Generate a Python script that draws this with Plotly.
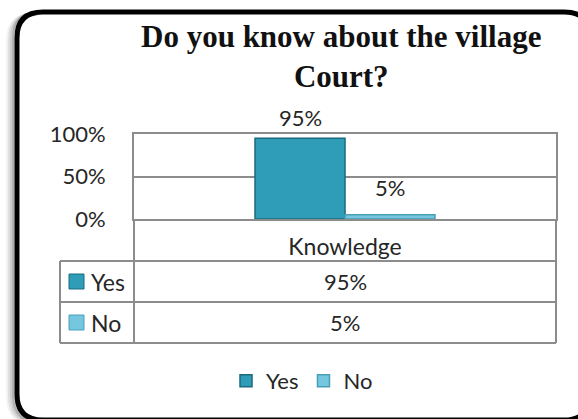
import plotly.graph_objects as go

# Canvas size in pixels
W, H = 578, 419

# ---- data ----
categories = ["Knowledge"]
series_names = ["Yes", "No"]
yes_values = [0.95]
no_values = [0.05]
y_tick_vals = [0, 0.5, 1]
y_tick_text = ["0%", "50%", "100%"]
title_text = "Do you know about the village<br>Court?"

# ---- styling ----
bar_colors = {"Yes": "#2f9cb8", "No": "#74c7df"}
bar_edges = {"Yes": "#1c6a7e", "No": "#4a9fb8"}
grid_col = "#8c8c8c"
text_col = "#262626"
FONT = "Lato"
label_lift = {"Yes": 21, "No": 27}

# plot area in pixels
L, R, T, B = 134, 556, 134, 219
# data table rows (pixel y of horizontal rules) and left edge
TBL_X0 = 60
ROW_Y = [261, 302, 343]
# outer frame (right side runs past the canvas edge)
FX0, FY0, FX1, FY1, FR = 17, 12, 590, 420, 26


def px(x):
    return x / W


def py(y):
    return 1 - y / H


def path_str(pts):
    s = ""
    for cmd, coords in pts:
        s += cmd + " " + " ".join(f"{px(a):.5f},{py(b):.5f}" for a, b in coords) + " "
    return s


def frame_path(x0, y0, x1, y1, r):
    # rounded frame drawn as an open outline; its right side lies beyond the canvas
    pts = [
        ("M", [(x1, y1 - r)]),
        ("Q", [(x1, y1), (x1 - r, y1)]),
        ("L", [(x0 + r, y1)]),
        ("Q", [(x0, y1), (x0, y1 - r)]),
        ("L", [(x0, y0 + r)]),
        ("Q", [(x0, y0), (x0 + r, y0)]),
        ("L", [(x1 - r, y0)]),
        ("Q", [(x1, y0), (x1, y0 + r)]),
    ]
    return path_str(pts)


def left_edge(x0, y0, y1, r, dx, dy):
    # open path along the left side and the two left corners, offset for a shadow
    x0 = x0 + dx
    y0, y1 = y0 + dy, y1 + dy
    pts = [
        ("M", [(x0 + r, y0)]),
        ("Q", [(x0, y0), (x0, y0 + r)]),
        ("L", [(x0, y1 - r)]),
        ("Q", [(x0, y1), (x0 + r, y1)]),
    ]
    return path_str(pts)


fig = go.Figure()
series_values = [yes_values, no_values]
for name, vals in zip(series_names, series_values):
    fig.add_trace(
        go.Bar(
            name=name,
            x=categories,
            y=vals,
            marker=dict(color=bar_colors[name], line=dict(color=bar_edges[name], width=1.5)),
            cliponaxis=False,
        )
    )

# bar widths: gap chosen so each bar is ~90px wide
plot_w = R - L
bargap = 0.5735
half_bar = plot_w * (1 - bargap) / 4

annotations = []
# value labels above bars
for i, (name, vals) in enumerate(zip(series_names, series_values)):
    shift = -half_bar if i == 0 else half_bar
    annotations.append(
        dict(
            x=categories[0], y=vals[0], xref="x", yref="y",
            xshift=shift, yshift=label_lift[name], yanchor="middle",
            text=f"{vals[0]:.0%}", showarrow=False,
            font=dict(family=FONT, size=22, color=text_col),
        )
    )

# title
annotations.append(
    dict(
        x=px(341), y=py(56), xref="paper", yref="paper",
        xanchor="center", yanchor="middle",
        text=f"<b>{title_text}</b>", showarrow=False,
        font=dict(family="Liberation Serif", size=31, color="#111111"),
    )
)

shapes = []
# soft shadow along the left of the frame
for k, alpha in [(9, 0.05), (7, 0.08), (5, 0.13), (3, 0.2)]:
    shapes.append(
        dict(type="path", path=left_edge(FX0, FY0, FY1, FR, dx=-k, dy=k * 0.3),
             xref="paper", yref="paper", line=dict(color=f"rgba(0,0,0,{alpha})", width=4),
             layer="below")
    )
# outer rounded frame
shapes.append(
    dict(type="path", path=frame_path(FX0, FY0, FX1, FY1, FR),
         xref="paper", yref="paper", line=dict(color="#000000", width=5),
         layer="below")
)

def hline(y, x0, x1):
    shapes.append(dict(type="line", xref="paper", yref="paper",
                       x0=px(x0), x1=px(x1), y0=py(y), y1=py(y),
                       line=dict(color=grid_col, width=2)))

def vline(x, y0, y1):
    shapes.append(dict(type="line", xref="paper", yref="paper",
                       x0=px(x), x1=px(x), y0=py(y0), y1=py(y1),
                       line=dict(color=grid_col, width=2)))

# data table grid
vline(L, B, ROW_Y[-1])
vline(R, B, ROW_Y[-1])
vline(TBL_X0, ROW_Y[0], ROW_Y[-1])
for y in ROW_Y:
    hline(y, TBL_X0, R)

# data table rows: legend key, series name, value
for i, (name, vals) in enumerate(zip(series_names, series_values)):
    yc = (ROW_Y[i] + ROW_Y[i + 1]) / 2
    shapes.append(dict(type="rect", xref="paper", yref="paper",
                       x0=px(69), x1=px(84), y0=py(yc - 7.5), y1=py(yc + 7.5),
                       fillcolor=bar_colors[name], line=dict(color=bar_edges[name], width=1)))
    annotations.append(dict(x=px(89), y=py(yc), xref="paper", yref="paper",
                            xanchor="left", yanchor="middle", text=name, showarrow=False,
                            font=dict(family=FONT, size=23, color=text_col)))
    annotations.append(dict(x=px((L + R) / 2), y=py(yc), xref="paper", yref="paper",
                            xanchor="center", yanchor="middle", text=f"{vals[0]:.0%}",
                            showarrow=False, font=dict(family=FONT, size=22, color=text_col)))

fig.update_layout(
    width=W, height=H,
    margin=dict(l=0, r=0, t=0, b=0, pad=0, autoexpand=False),
    paper_bgcolor="white", plot_bgcolor="white",
    barmode="group", bargap=bargap, bargroupgap=0,
    font=dict(family=FONT, size=22, color=text_col),
    showlegend=True,
    legend=dict(orientation="h", x=px(302), xanchor="center", y=py(381), yanchor="middle",
                font=dict(family=FONT, size=22, color=text_col), bgcolor="rgba(0,0,0,0)"),
    xaxis=dict(domain=[px(L), px(R)], showline=True, mirror=True, linecolor=grid_col,
               linewidth=2, showgrid=False, ticks="", ticklabelstandoff=6,
               tickfont=dict(family=FONT, size=23, color=text_col), fixedrange=True),
    yaxis=dict(domain=[py(B), py(T)], range=[0, 1], tickvals=y_tick_vals, ticktext=y_tick_text,
               showgrid=True, gridcolor=grid_col, gridwidth=2, showline=True, mirror=True,
               linecolor=grid_col, linewidth=2, zeroline=False, ticks="",
               ticklabelstandoff=22, tickfont=dict(family=FONT, size=22, color=text_col),
               fixedrange=True),
    shapes=shapes,
    annotations=annotations,
)

# keep the page itself from scrolling so only the figure is shown
fig.write_html(
    "out.html",
    config={"displayModeBar": False},
    post_script="document.documentElement.style.overflow='hidden';"
                "document.body.style.overflow='hidden';",
)
